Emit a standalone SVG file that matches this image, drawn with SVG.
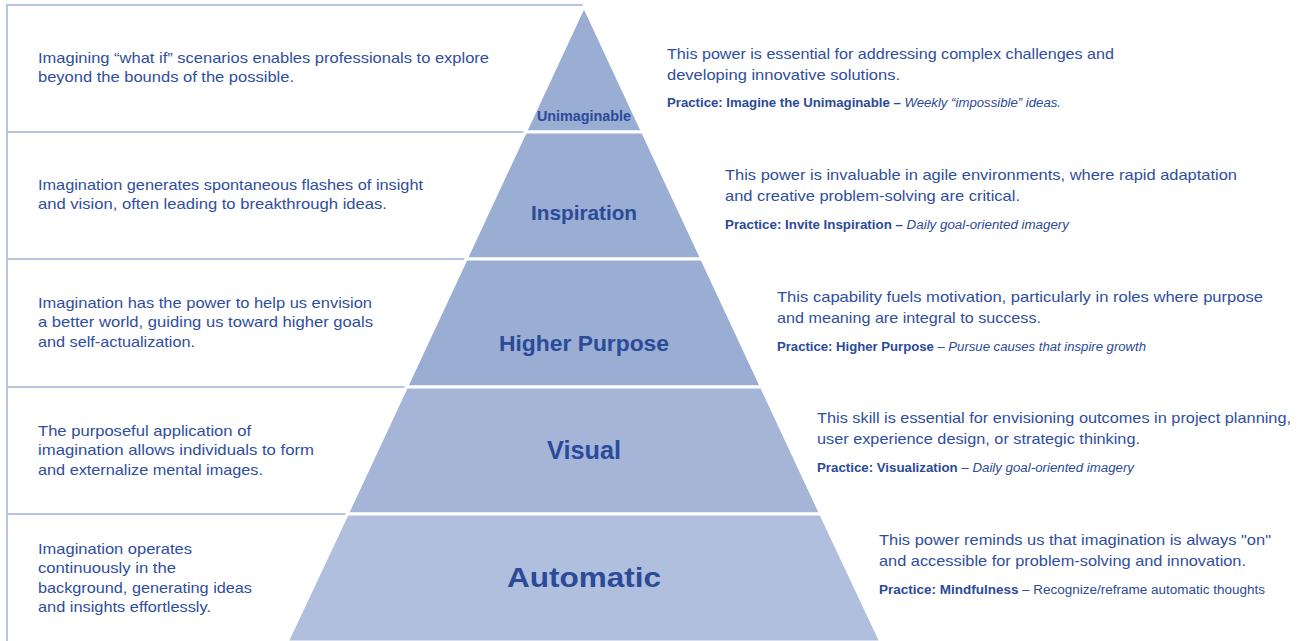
<svg xmlns="http://www.w3.org/2000/svg" width="1308" height="641" viewBox="0 0 1308 641">
  <style>
    .frame { stroke: #b6c5e3; stroke-width: 2; fill: none; }
    .band { stroke: #ffffff; stroke-width: 3; stroke-linejoin: miter; }
    .lvl1 { fill: #9aadd3; }
    .lvl2 { fill: #a4b5d8; }
    .lvl3 { fill: #b0bfdd; }
    .label { font-family: "Liberation Sans", Arial, sans-serif; font-weight: bold; fill: #2b4a99; text-anchor: middle; }
    .body { font-family: "Liberation Sans", Arial, sans-serif; font-size: 15px; fill: #2f4e9d; }
    .note { font-family: "Liberation Sans", Arial, sans-serif; font-size: 12px; fill: #2b4a99; }
    .b { font-weight: bold; }
    .i { font-style: italic; }
  </style>
  <rect width="1308" height="641" fill="#ffffff"/>

  <!-- left description frame: outer border and row dividers -->
  <g id="frame">
    <path class="frame" d="M7 641 V5 H584"/>
    <path class="frame" d="M7 132 H526"/>
    <path class="frame" d="M7 259 H467"/>
    <path class="frame" d="M7 387 H407"/>
    <path class="frame" d="M7 514 H348"/>
  </g>

  <!-- pyramid levels, top to bottom -->
  <g id="level-unimaginable">
    <polygon class="band lvl1" points="584,6 642.7,132 525.3,132"/>
    <text class="label" x="584" y="121" font-size="14" textLength="94" lengthAdjust="spacingAndGlyphs">Unimaginable</text>
    <text class="body" x="38" y="63" textLength="451" lengthAdjust="spacingAndGlyphs">Imagining “what if” scenarios enables professionals to explore</text>
    <text class="body" x="38" y="82" textLength="256" lengthAdjust="spacingAndGlyphs">beyond the bounds of the possible.</text>
    <text class="body" x="667" y="59" textLength="447" lengthAdjust="spacingAndGlyphs">This power is essential for addressing complex challenges and</text>
    <text class="body" x="667" y="80" textLength="233" lengthAdjust="spacingAndGlyphs">developing innovative solutions.</text>
    <text class="note" x="667" y="107" textLength="394" lengthAdjust="spacingAndGlyphs"><tspan class="b">Practice: Imagine the Unimaginable –</tspan> <tspan class="i">Weekly “impossible” ideas.</tspan></text>
  </g>

  <g id="level-inspiration">
    <polygon class="band lvl1" points="525.3,132 642.7,132 701.9,259 466.1,259"/>
    <text class="label" x="584" y="220" font-size="21" textLength="106" lengthAdjust="spacingAndGlyphs">Inspiration</text>
    <text class="body" x="38" y="190" textLength="385" lengthAdjust="spacingAndGlyphs">Imagination generates spontaneous flashes of insight</text>
    <text class="body" x="38" y="209" textLength="349" lengthAdjust="spacingAndGlyphs">and vision, often leading to breakthrough ideas.</text>
    <text class="body" x="725" y="180" textLength="512" lengthAdjust="spacingAndGlyphs">This power is invaluable in agile environments, where rapid adaptation</text>
    <text class="body" x="725" y="201" textLength="295" lengthAdjust="spacingAndGlyphs">and creative problem-solving are critical.</text>
    <text class="note" x="725" y="229" textLength="344" lengthAdjust="spacingAndGlyphs"><tspan class="b">Practice: Invite Inspiration –</tspan> <tspan class="i">Daily goal-oriented imagery</tspan></text>
  </g>

  <g id="level-higher-purpose">
    <polygon class="band lvl1" points="466.1,259 701.9,259 761.6,387 406.4,387"/>
    <text class="label" x="584" y="351" font-size="22" textLength="170" lengthAdjust="spacingAndGlyphs">Higher Purpose</text>
    <text class="body" x="38" y="308" textLength="334" lengthAdjust="spacingAndGlyphs">Imagination has the power to help us envision</text>
    <text class="body" x="38" y="327" textLength="335" lengthAdjust="spacingAndGlyphs">a better world, guiding us toward higher goals</text>
    <text class="body" x="38" y="347" textLength="157" lengthAdjust="spacingAndGlyphs">and self-actualization.</text>
    <text class="body" x="777" y="302" textLength="486" lengthAdjust="spacingAndGlyphs">This capability fuels motivation, particularly in roles where purpose</text>
    <text class="body" x="777" y="323" textLength="264" lengthAdjust="spacingAndGlyphs">and meaning are integral to success.</text>
    <text class="note" x="777" y="351" textLength="369" lengthAdjust="spacingAndGlyphs"><tspan class="b">Practice: Higher Purpose</tspan> – <tspan class="i">Pursue causes that inspire growth</tspan></text>
  </g>

  <g id="level-visual">
    <polygon class="band lvl2" points="406.4,387 761.6,387 820.8,514 347.2,514"/>
    <text class="label" x="584" y="459" font-size="25" textLength="74" lengthAdjust="spacingAndGlyphs">Visual</text>
    <text class="body" x="38" y="436" textLength="213" lengthAdjust="spacingAndGlyphs">The purposeful application of</text>
    <text class="body" x="38" y="455" textLength="276" lengthAdjust="spacingAndGlyphs">imagination allows individuals to form</text>
    <text class="body" x="38" y="475" textLength="225" lengthAdjust="spacingAndGlyphs">and externalize mental images.</text>
    <text class="body" x="817" y="423" textLength="474" lengthAdjust="spacingAndGlyphs">This skill is essential for envisioning outcomes in project planning,</text>
    <text class="body" x="817" y="444" textLength="323" lengthAdjust="spacingAndGlyphs">user experience design, or strategic thinking.</text>
    <text class="note" x="817" y="472" textLength="317" lengthAdjust="spacingAndGlyphs"><tspan class="b">Practice: Visualization</tspan> – <tspan class="i">Daily goal-oriented imagery</tspan></text>
  </g>

  <g id="level-automatic">
    <polygon class="band lvl3" points="347.2,514 820.8,514 881,642 287,642"/>
    <text class="label" x="584" y="587" font-size="28" textLength="154" lengthAdjust="spacingAndGlyphs">Automatic</text>
    <text class="body" x="38" y="554" textLength="154" lengthAdjust="spacingAndGlyphs">Imagination operates</text>
    <text class="body" x="38" y="573" textLength="138" lengthAdjust="spacingAndGlyphs">continuously in the</text>
    <text class="body" x="38" y="593" textLength="214" lengthAdjust="spacingAndGlyphs">background, generating ideas</text>
    <text class="body" x="38" y="612" textLength="173" lengthAdjust="spacingAndGlyphs">and insights effortlessly.</text>
    <text class="body" x="879" y="545" textLength="392" lengthAdjust="spacingAndGlyphs">This power reminds us that imagination is always "on"</text>
    <text class="body" x="879" y="566" textLength="367" lengthAdjust="spacingAndGlyphs">and accessible for problem-solving and innovation.</text>
    <text class="note" x="879" y="594" textLength="386" lengthAdjust="spacingAndGlyphs"><tspan class="b">Practice: Mindfulness</tspan> – Recognize/reframe automatic thoughts</text>
  </g>
</svg>
